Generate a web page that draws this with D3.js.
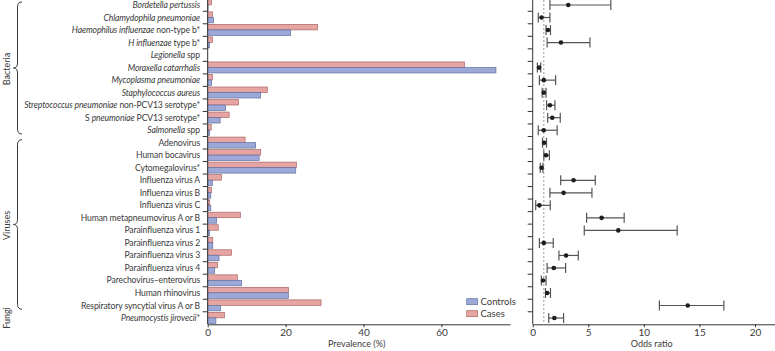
<!DOCTYPE html>
<html><head><meta charset="utf-8">
<script src="https://cdn.jsdelivr.net/npm/d3@7"></script>
<style>body{margin:0;background:#fff}svg{display:block}text{font-family:Lato,"Open Sans",sans-serif;fill:#3a3a3a}</style>
</head><body>
<script>
const categories = [
  "Bordetella pertussis","Chlamydophila pneumoniae","Haemophilus influenzae non-type b*","H influenzae type b*",
  "Legionella spp","Moraxella catarrhalis","Mycoplasma pneumoniae","Staphylococcus aureus",
  "Streptococcus pneumoniae non-PCV13 serotype*","S pneumoniae PCV13 serotype*","Salmonella spp",
  "Adenovirus","Human bocavirus","Cytomegalovirus*","Influenza virus A","Influenza virus B","Influenza virus C",
  "Human metapneumovirus A or B","Parainfluenza virus 1","Parainfluenza virus 2","Parainfluenza virus 3",
  "Parainfluenza virus 4","Parechovirus\u2013enterovirus","Human rhinovirus","Respiratory syncytial virus A or B",
  "Pneumocystis jirovecii*"
];
const italicParts = [
  "Bordetella pertussis","Chlamydophila pneumoniae","Haemophilus influenzae","H influenzae",
  "Legionella","Moraxella catarrhalis","Mycoplasma pneumoniae","Staphylococcus aureus",
  "Streptococcus pneumoniae","pneumoniae","Salmonella",
  "","","","","","","","","","","","","","",
  "Pneumocystis jirovecii"
];
const casesPrev = [1.0,1.2,28.2,1.2,0,65.9,1.2,15.3,7.9,5.5,0.9,
  9.6,13.6,22.8,3.5,1.0,0.5,8.4,2.7,1.3,6.1,2.5,7.6,20.7,29.1,4.3];
const controlsPrev = [0.1,1.5,21.3,0.5,0,74.0,1.0,13.6,4.6,3.2,0.5,
  12.3,13.2,22.6,1.2,0.8,0.8,2.3,0.5,1.3,2.9,1.8,8.7,20.7,3.3,2.1];
const oddsRatio = [3.2,0.8,1.37,2.54,null,0.57,1.0,1.0,1.55,1.76,0.99,
  1.03,1.2,0.8,3.68,2.78,0.6,6.2,7.7,1.0,3.0,1.9,0.93,1.3,13.95,1.95];
const ciLow = [1.55,0.5,1.2,1.3,null,0.42,0.6,0.85,1.25,1.35,0.5,
  0.88,1.0,0.68,2.52,1.55,0.27,4.85,4.64,0.6,2.36,1.3,0.78,1.15,11.4,1.44];
const ciHigh = [7.03,1.55,1.6,5.15,null,0.72,2.06,1.2,2.0,2.48,2.2,
  1.24,1.5,0.92,5.63,5.33,1.58,8.23,13.0,1.85,4.1,2.96,1.2,1.6,17.2,2.78];
const prevTicks = [0,20,40,60];
const orTicks = [0,5,10,15,20];
const groups = [
  {name:"Bacteria", first:0, last:10, brace:true},
  {name:"Viruses", first:11, last:24, brace:true},
  {name:"Fungi", first:25, last:25, brace:false}
];
const seriesNames = ["Controls","Cases"];
const colors = {Controls:{fill:"#9ca9d8",stroke:"#62709e"}, Cases:{fill:"#e6a5a2",stroke:"#a86565"}};

const W=775,H=351;
const svg=d3.select("body").append("svg").attr("width",W).attr("height",H);
const y=d3.scaleBand().domain(categories).range([-1.25,324.3]).padding(0);
const bw=y.bandwidth();
const xL=d3.scaleLinear().domain([0,77.6]).range([207.7,510]);
const xR=d3.scaleLinear().domain([0,21.8]).range([532.7,775]);
const axisColor="#333";
const fs=8.6;

// Left bars
const gBars=svg.append("g");
categories.forEach((c,i)=>{
  const y0=y(c);
  gBars.append("rect").attr("x",xL(0)).attr("y",y0+0.6).attr("width",Math.max(0,xL(casesPrev[i])-xL(0))).attr("height",5.5)
    .attr("fill",colors.Cases.fill).attr("stroke",colors.Cases.stroke).attr("stroke-width",0.7);
  gBars.append("rect").attr("x",xL(0)).attr("y",y0+6.1).attr("width",Math.max(0,xL(controlsPrev[i])-xL(0))).attr("height",5.5)
    .attr("fill",colors.Controls.fill).attr("stroke",colors.Controls.stroke).attr("stroke-width",0.7);
});

// y axes with band-boundary ticks
function bandAxis(x0){
  const g=svg.append("g");
  g.append("line").attr("x1",x0).attr("x2",x0).attr("y1",-2).attr("y2",324.3).attr("stroke",axisColor).attr("stroke-width",1);
  for(let k=0;k<categories.length;k++){
    const yy=y(categories[k]);
    g.append("line").attr("x1",x0-5).attr("x2",x0).attr("y1",yy).attr("y2",yy).attr("stroke",axisColor).attr("stroke-width",1);
  }
}
bandAxis(xL(0));
bandAxis(xR(0));

// Category labels
const gLab=svg.append("g");
categories.forEach((c,i)=>{
  const t=gLab.append("text").attr("x",200).attr("y",y(c)+bw/2).attr("text-anchor","end")
    .attr("dominant-baseline","central").attr("font-size",fs).attr("letter-spacing","-0.12px");
  const it=italicParts[i];
  const idx=it?c.indexOf(it):-1;
  if(idx<0){t.append("tspan").text(c);}
  else{
    if(idx>0)t.append("tspan").text(c.slice(0,idx));
    t.append("tspan").attr("font-style","italic").text(it);
    const rest=c.slice(idx+it.length);
    if(rest)t.append("tspan").text(rest);
  }
});

// X axes
const axL=svg.append("g").attr("transform","translate(0,324.3)")
  .call(d3.axisBottom(xL).tickValues(prevTicks).tickSize(3).tickSizeOuter(0));
const axR=svg.append("g").attr("transform","translate(0,324.3)")
  .call(d3.axisBottom(xR).tickValues(orTicks).tickSize(3).tickSizeOuter(0));
[axL,axR].forEach(a=>{
  a.select(".domain").attr("stroke",axisColor);
  a.selectAll(".tick line").attr("stroke",axisColor);
  a.selectAll(".tick text").attr("font-size",10).attr("font-family","Lato,sans-serif").attr("fill","#3a3a3a").attr("dy","0.6em");
});
svg.append("text").attr("x",356.7).attr("y",347).attr("text-anchor","middle").attr("font-size",9).text("Prevalence (%)");
svg.append("text").attr("x",651.7).attr("y",347).attr("text-anchor","middle").attr("font-size",9).text("Odds ratio");

// Reference line at OR=1
svg.append("line").attr("x1",xR(1)).attr("x2",xR(1)).attr("y1",0).attr("y2",324.3)
  .attr("stroke","#999").attr("stroke-dasharray","2,2").attr("stroke-width",1);

// Odds ratios
const gOR=svg.append("g");
categories.forEach((c,i)=>{
  if(oddsRatio[i]==null)return;
  const yc=y(c)+bw/2;
  const lc="#555";
  gOR.append("line").attr("x1",xR(ciLow[i])).attr("x2",xR(ciHigh[i])).attr("y1",yc).attr("y2",yc).attr("stroke",lc).attr("stroke-width",1.2);
  [ciLow[i],ciHigh[i]].forEach(v=>{
    gOR.append("line").attr("x1",xR(v)).attr("x2",xR(v)).attr("y1",yc-5).attr("y2",yc+5).attr("stroke",lc).attr("stroke-width",1.2);
  });
  gOR.append("circle").attr("cx",xR(oddsRatio[i])).attr("cy",yc).attr("r",2.3).attr("fill","#1e1e1e");
});

// Legend
seriesNames.forEach((s,k)=>{
  const yy=298.7+k*12;
  svg.append("rect").attr("x",466.7).attr("y",yy).attr("width",11).attr("height",6)
    .attr("fill",colors[s].fill).attr("stroke",colors[s].stroke).attr("stroke-width",0.7);
  svg.append("text").attr("x",480.5).attr("y",yy+3).attr("dominant-baseline","central").attr("font-size",9.5).text(s);
});

// Group braces and labels
groups.forEach(g=>{
  const top=y(categories[g.first])+3.2;
  const bot=y(categories[g.last])+bw-2.5;
  const mid=(top+bot)/2;
  if(g.brace){
    const xe=22,xm=17.5,xc=13.5,r=5;
    const p=`M${xe},${top} Q${xm},${top} ${xm},${top+r} L${xm},${mid-r} Q${xm},${mid} ${xc},${mid} Q${xm},${mid} ${xm},${mid+r} L${xm},${bot-r} Q${xm},${bot} ${xe},${bot}`;
    svg.append("path").attr("d",p).attr("fill","none").attr("stroke","#3a3a3a").attr("stroke-width",1);
  }
  const ly=g.brace?mid+1:y(categories[g.first])+bw/2;
  svg.append("text").attr("transform",`translate(6,${ly}) rotate(-90)`).attr("text-anchor","middle")
    .attr("dominant-baseline","central").attr("font-size",9).text(g.name);
});
</script>
</body></html>
